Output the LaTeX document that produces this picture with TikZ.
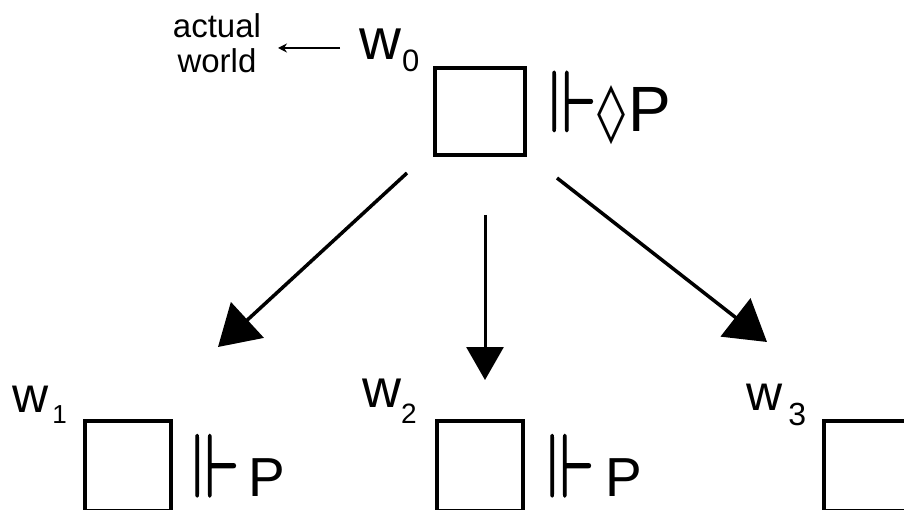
\documentclass[tikz,border=0pt]{standalone}
\usepackage{amssymb}
\usepackage{fontspec}
\setmainfont{Liberation Sans}
\newfontfamily\symboldfont{DejaVu Sans Bold}
\usetikzlibrary{arrows.meta}
\newcommand\forcesym[2]{\resizebox{#1}{#2}{\special{pdf:literal direct 2 Tr 0.18 w}$\Vdash$\special{pdf:literal direct 0 Tr}}}
\begin{document}
\begin{tikzpicture}[x=1pt,y=-1pt,
  world/.style={draw,line width=#1,inner sep=0pt},
  lab/.style={inner sep=0pt,anchor=base west},
  forces/.style={inner sep=0pt,anchor=south west},
  bigarrow/.style={line width=3.5pt,-{Triangle[length=40pt,width=48pt]}},
  midarrow/.style={line width=3pt,-{Triangle[length=33pt,width=37pt]}},
  smallarrow/.style={line width=1.3pt,-{Stealth[length=9pt,width=9pt]}}]
\useasboundingbox (0,0) rectangle (904,510);
\fill[white] (0,0) rectangle (904,510);
% worlds
\node[world=4pt,minimum width=90pt,minimum height=87pt] (b0) at (480,111.5) {};
\node[world=3.5pt,minimum width=86pt,minimum height=90pt] (b1) at (128,466) {};
\node[world=3.5pt,minimum width=86pt,minimum height=90pt] (b2) at (480,466) {};
\node[world=3.5pt,minimum width=86pt,minimum height=90pt] (b3) at (867,466) {};
% labels
\node[lab] (w0) at (359,60) {\fontsize{58}{58}\selectfont w\kern1pt\raisebox{-12pt}{\fontsize{31}{31}\selectfont 0}};
\node[lab] (w1) at (12,412) {\fontsize{50}{50}\selectfont w\kern4pt\raisebox{-11pt}{\fontsize{26}{26}\selectfont 1}};
\node[lab] (w2) at (362,407) {\fontsize{54}{54}\selectfont w\kern0pt\raisebox{-16pt}{\fontsize{28}{28}\selectfont 2}};
\node[lab] (w3) at (746,410) {\fontsize{50}{50}\selectfont w\kern6pt\raisebox{-15pt}{\fontsize{32}{32}\selectfont 3}};
% forcing
\node[forces] (f0) at (549,145) {\forcesym{47pt}{60pt}\kern1pt\resizebox{28pt}{46pt}{\symboldfont ◊}\kern3pt\fontsize{64}{64}\selectfont P};
\node[forces] (f1) at (192,497) {\forcesym{47pt}{62pt}\kern9pt\fontsize{55}{55}\selectfont P};
\node[forces] (f2) at (547,497) {\forcesym{47pt}{62pt}\kern11pt\fontsize{55}{55}\selectfont P};
% actual world
\node[inner sep=0pt,align=center,font=\fontsize{33}{35}\selectfont] (aw) at (217,43) {actual\\world};
\coordinate (awa) at (340,48);
\coordinate (awb) at (278,48);
\draw[smallarrow] (awa) -- (awb);
% arrows
\coordinate (s1) at (407,173);
\coordinate (t1) at (218,347);
\coordinate (s2) at (485,215);
\coordinate (t2) at (485,380);
\coordinate (s3) at (557,178);
\coordinate (t3) at (767,342);
\draw[bigarrow] (s1) -- (t1);
\draw[midarrow] (s2) -- (t2);
\draw[bigarrow] (s3) -- (t3);
\end{tikzpicture}
\end{document}
